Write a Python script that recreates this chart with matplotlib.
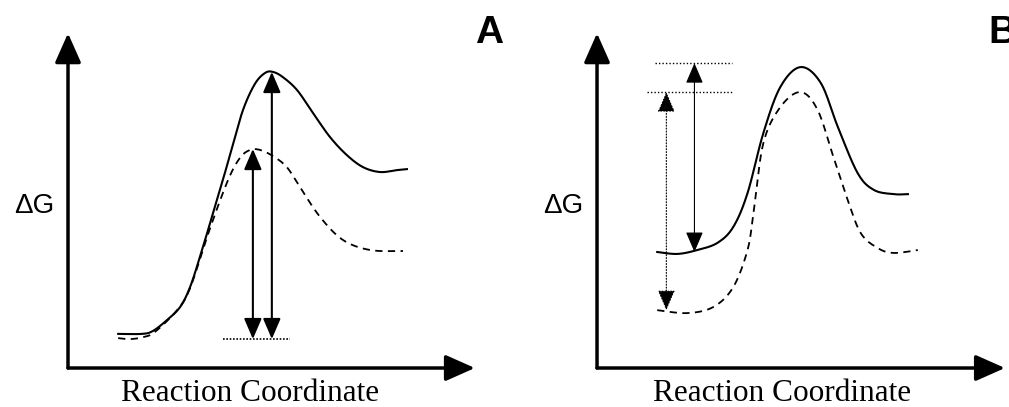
import numpy as np
import matplotlib
matplotlib.use("Agg")
import matplotlib.pyplot as plt

# Panel A: reaction coordinate / free energy (arbitrary units 0-100)
a_solid_x = [12.7, 18.7, 21.5, 25.1, 28.4, 30.9, 33.4, 35.9, 38.7, 41.5, 44.3, 47.3, 49.9, 51.9,
             54.4, 58.0, 62.0, 66.3, 70.6, 74.7, 79.0, 83.3, 85.8]
a_solid_y = [10.5, 10.5, 11.4, 14.8, 18.8, 24.9, 34.2, 44.3, 55.7, 67.7, 79.4, 87.4, 90.8, 91.1,
             89.5, 85.5, 78.5, 71.1, 65.5, 61.8, 60.3, 60.9, 61.2]
a_dash_x = [12.7, 15.7, 19.0, 22.0, 27.6, 30.9, 35.9, 40.5, 43.5, 46.1, 48.6, 51.9, 55.4, 58.7,
            63.8, 69.6, 76.5, 84.8]
a_dash_y = [9.2, 8.9, 9.5, 11.1, 17.8, 24.6, 42.8, 57.8, 64.6, 67.1, 67.1, 65.2, 61.8, 55.7,
            46.5, 39.4, 36.3, 36.0]
a_ground = 8.9
a_ground_span = [39.2, 56.2]
a_arrows = [(46.8, 67.4), (51.6, 91.1)]  # (x, top) each down to ground

# Panel B
b_solid_x = [15.2, 20.3, 25.3, 30.4, 34.4, 38.0, 42.0, 46.3, 51.4, 56.5, 60.8, 65.8, 69.9, 74.9, 78.5]
b_solid_y = [35.7, 35.1, 36.3, 38.5, 43.4, 53.8, 72.3, 86.5, 92.6, 87.7, 74.2, 60.0, 54.8, 53.5, 53.5]
b_dash_x = [15.2, 22.8, 29.4, 34.4, 38.0, 39.5, 42.0, 46.3, 51.4, 55.7, 59.7, 63.3, 66.6, 70.9, 74.9, 81.0]
b_dash_y = [17.8, 16.9, 18.8, 24.9, 36.3, 47.7, 69.2, 80.3, 84.9, 79.4, 64.9, 51.7, 41.5, 36.9, 35.4, 36.3]
b_levels = [93.8, 84.9]
b_level_spans = [(14.7, 34.2), (12.7, 34.2)]
b_arrows = [(24.6, 93.8, 35.7, '-'), (17.5, 84.9, 17.8, ':')]


def smooth(x, y, n=20):
    # Catmull-Rom through the read points, only for drawing
    x = np.asarray(x, float)
    y = np.asarray(y, float)
    px = np.concatenate([[x[0]], x, [x[-1]]])
    py = np.concatenate([[y[0]], y, [y[-1]]])
    xs, ys = [], []
    t = np.linspace(0, 1, n, endpoint=False)
    for i in range(1, len(px) - 2):
        for p, out in ((px, xs), (py, ys)):
            p0, p1, p2, p3 = p[i - 1], p[i], p[i + 1], p[i + 2]
            out.extend(0.5 * (2 * p1 + (-p0 + p2) * t + (2 * p0 - 5 * p1 + 4 * p2 - p3) * t ** 2
                              + (-p0 + 3 * p1 - 3 * p2 + p3) * t ** 3))
    xs.append(x[-1])
    ys.append(y[-1])
    return xs, ys


def arrow(ax, x0, y0, x1, y1, style, lw, ms, ls='-'):
    ax.annotate('', xy=(x1, y1), xytext=(x0, y0),
                arrowprops=dict(arrowstyle=style, lw=lw, color='black', linestyle=ls,
                                mutation_scale=ms, shrinkA=0, shrinkB=0),
                annotation_clip=False)


def setup(ax, letter, letter_x, label_x):
    ax.set_xlim(0, 100)
    ax.set_ylim(0, 100)
    ax.axis('off')
    arrow(ax, 0, 0, 103, 0, '-|>,head_length=0.9,head_width=0.4', 2.5, 20)
    arrow(ax, 0, 0, 0, 103, '-|>,head_length=0.9,head_width=0.4', 2.5, 20)
    ax.text(-3.4, 47.7, '\u0394G', ha='right', va='baseline', fontsize=20,
            family='Liberation Sans')
    ax.text(label_x, -10.0, 'Reaction Coordinate', ha='center', va='baseline',
            fontsize=22.5, family='Liberation Serif')
    ax.text(letter_x, 100, letter, ha='left', va='baseline', fontsize=28,
            fontweight='bold', family='Liberation Sans')


fig = plt.figure(figsize=(10.09, 4.07), dpi=100)
axA = fig.add_axes([0.0674, 0.0958, 0.3915, 0.7985])
axB = fig.add_axes([0.5917, 0.0958, 0.3925, 0.7985])
setup(axA, 'A', 103.0, 46.0)
setup(axB, 'B', 98.8, 46.6)

# Panel A
axA.plot(*smooth(a_solid_x, a_solid_y), color='black', lw=1.5)
axA.plot(*smooth(a_dash_x, a_dash_y), color='black', lw=1.3, ls=(0, (4, 3)))
axA.plot(a_ground_span, [a_ground, a_ground], color='black', lw=1.2, ls=(0, (1, 1)))
for x, top in a_arrows:
    arrow(axA, x, a_ground, x, top, '<|-|>,head_length=0.7,head_width=0.3', 1.5, 18)

# Panel B
axB.plot(*smooth(b_solid_x, b_solid_y), color='black', lw=1.5)
axB.plot(*smooth(b_dash_x, b_dash_y), color='black', lw=1.3, ls=(0, (4, 3)))
for lev, (x0, x1) in zip(b_levels, b_level_spans):
    axB.plot([x0, x1], [lev, lev], color='black', lw=1.0, ls=(0, (1, 1.5)))
for x, top, bot, ls in b_arrows:
    arrow(axB, x, bot, x, top, '<|-|>,head_length=0.7,head_width=0.3', 0.8, 18, ls)

fig.savefig('out.png', dpi=100)
